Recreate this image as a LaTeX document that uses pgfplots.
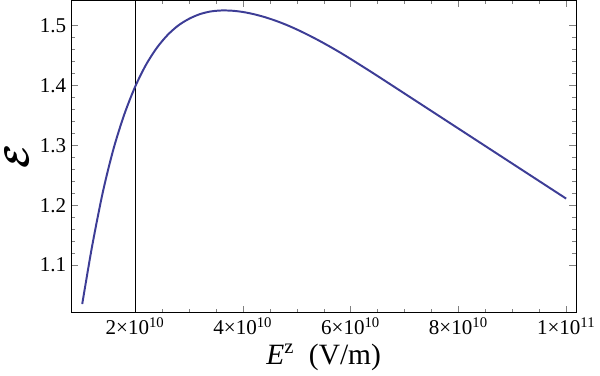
\documentclass[border=0pt]{standalone}
\usepackage{pgfplots}
\pgfplotsset{compat=1.18}
\usepackage{bm}
\usepackage{fontspec}
\setmainfont{Liberation Serif}
\definecolor{linecol}{RGB}{61,61,150}

\begin{document}
\begin{tikzpicture}
\begin{axis}[
    scale only axis,
    width=12.65cm, height=7.825cm,
    xmin=0.815, xmax=10.185,
    ymin=1.0205, ymax=1.542,
    xtick={2,4,6,8,10},
    xticklabels={2×10\textsuperscript{10}, 4×10\textsuperscript{10}, 6×10\textsuperscript{10}, 8×10\textsuperscript{10}, 1×10\textsuperscript{11}},
    ytick={1.1,1.2,1.3,1.4,1.5},
    yticklabels={1.1,1.2,1.3,1.4,1.5},
    minor x tick num=3, minor y tick num=4,
    tick align=inside,
    major tick length=0.17cm, minor tick length=0.1cm,
    ticklabel style={font=\fontsize{15}{17}\selectfont},
    every axis x label/.style={at={(axis description cs:0.5,-0.142)}, anchor=center},
    every axis y label/.style={at={(axis description cs:-0.108,0.5)}, anchor=center, rotate=90},
    xlabel={\textit{E}\textsuperscript{z}\,\,\,(V/m)},
    xlabel style={font=\fontsize{21}{23}\selectfont},
    ylabel={$\bm{\mathcal{E}}$},
    ylabel style={font=\fontsize{30}{32}\selectfont},
    clip=false,
]
\path (axis description cs:-0.138,0.5);
\addplot[black, line width=0.6pt] coordinates {(2,1.0205) (2,1.542)};
\addplot[color=linecol, line width=1.4pt, smooth] coordinates {
(1.02,1.035) (1.2,1.130) (1.4,1.221) (1.6,1.294) (1.8,1.3515) (2.0,1.3975)
(2.2,1.434) (2.4,1.4623) (2.6,1.4839) (2.8,1.500) (3.0,1.5112) (3.2,1.519)
(3.4,1.5235) (3.6,1.5252) (3.8,1.5248) (4.0,1.5227) (4.2,1.5191) (4.4,1.5143)
(4.6,1.5084) (4.8,1.5015) (5.0,1.4936) (5.2,1.4849) (5.4,1.4756) (5.6,1.4657)
(5.8,1.4553) (6.0,1.4443) (6.2,1.4330) (6.4,1.4216) (6.6,1.4100) (6.8,1.3983)
(7.0,1.3866) (7.2,1.3749) (7.4,1.3632) (7.6,1.3515) (7.8,1.3398) (8.0,1.3281)
(8.2,1.3164) (8.4,1.3047) (8.6,1.2930) (8.8,1.2813) (9.0,1.2696) (9.2,1.2579)
(9.4,1.2462) (9.6,1.2345) (9.8,1.2228) (10.0,1.2111)
};
\end{axis}
\end{tikzpicture}
\end{document}
